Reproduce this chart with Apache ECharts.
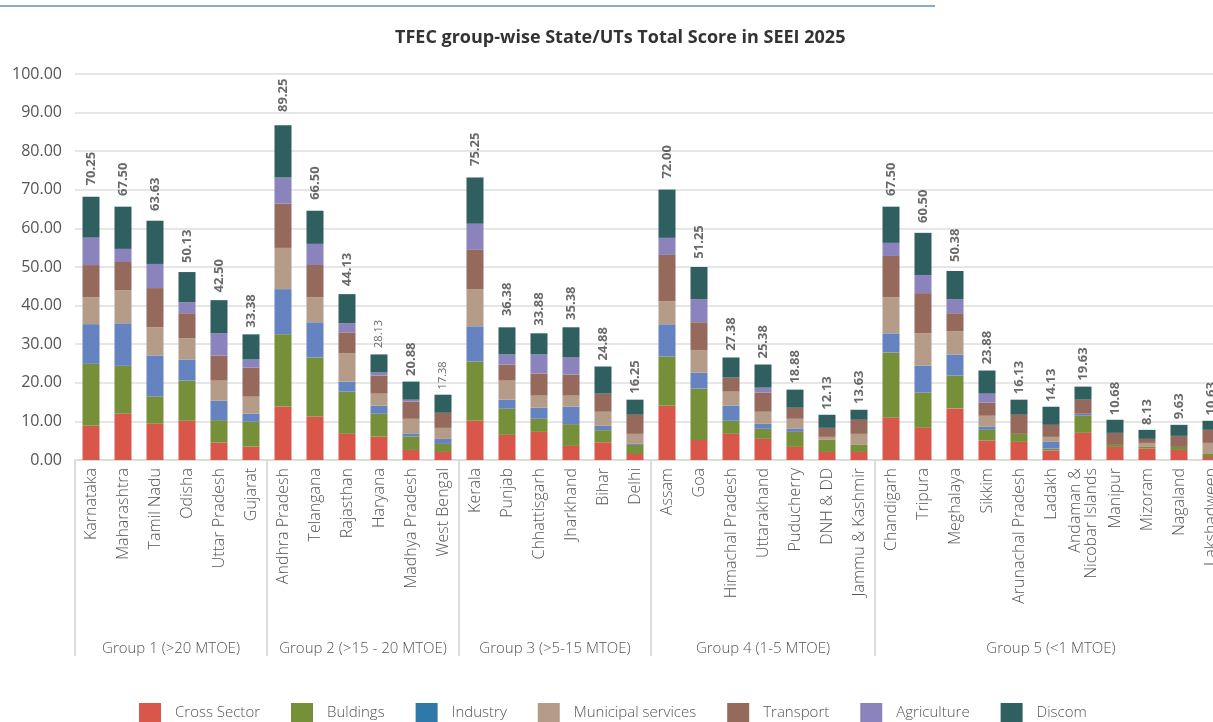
<!DOCTYPE html>
<html>
<head>
<meta charset="utf-8">
<script src="https://cdn.jsdelivr.net/npm/echarts@6/dist/echarts.min.js"></script>
<style>
  html, body { margin: 0; padding: 0; background: #fff; }
  #seei_chart { width: 1213px; height: 722px; }
</style>
</head>
<body>
<div id="seei_chart"></div>
<script>
// categories (states / UTs), in the order shown
var states = [
    'Karnataka', 'Maharashtra', 'Tamil Nadu', 'Odisha', 'Uttar Pradesh', 'Gujarat',
    'Andhra Pradesh', 'Telangana', 'Rajasthan', 'Haryana', 'Madhya Pradesh', 'West Bengal',
    'Kerala', 'Punjab', 'Chhattisgarh', 'Jharkhand', 'Bihar', 'Delhi',
    'Assam', 'Goa', 'Himachal Pradesh', 'Uttarakhand', 'Puducherry', 'DNH & DD', 'Jammu & Kashmir',
    'Chandigarh', 'Tripura', 'Meghalaya', 'Sikkim', 'Arunachal Pradesh', 'Ladakh',
    'Andaman &\nNicobar Islands', 'Manipur', 'Mizoram', 'Nagaland', 'Lakshadweep'
];
var groups = ['Group 1 (>20 MTOE)', 'Group 2 (>15 - 20 MTOE)', 'Group 3 (>5-15 MTOE)', 'Group 4 (1-5 MTOE)', 'Group 5 (<1 MTOE)'];
var groupSizes = [6, 6, 6, 7, 11];

// sector scores
var crossSector = [8.85, 11.98, 9.38, 10.16, 4.51, 3.47, 13.89, 11.28, 6.77, 6.08, 2.60, 2.08, 10.16, 6.51, 7.29, 3.65, 4.60, 1.56, 14.06, 5.21, 6.77, 5.47, 3.39, 2.08, 2.08, 10.94, 8.33, 13.37, 5.03, 4.69, 2.43, 7.03, 3.39, 2.95, 2.60, 0.78];
var buildings = [16.05, 12.41, 7.12, 10.41, 5.82, 6.43, 18.66, 15.28, 10.94, 5.90, 3.47, 2.08, 15.36, 6.77, 3.39, 5.64, 3.13, 2.35, 12.76, 13.28, 3.39, 2.60, 3.90, 3.13, 1.83, 16.92, 9.12, 8.51, 2.78, 2.08, 0.52, 4.43, 0.52, 0.44, 0.79, 0.78];
var industry = [10.30, 11.03, 10.59, 5.47, 5.03, 2.08, 11.72, 9.12, 2.60, 2.08, 0.69, 1.30, 9.12, 2.34, 2.86, 4.51, 1.12, 0.26, 8.34, 4.17, 3.90, 1.31, 0.78, 0, 0, 4.95, 7.03, 5.46, 0.78, 0, 1.74, 0.52, 0, 0, 0, 0];
var municipal = [7.00, 8.59, 7.29, 5.47, 5.21, 4.43, 10.68, 6.51, 7.29, 3.13, 3.91, 2.86, 9.64, 4.95, 3.13, 2.87, 3.65, 2.60, 5.99, 5.73, 3.65, 3.12, 2.61, 0.78, 2.86, 9.38, 8.33, 5.99, 2.87, 0, 1.30, 0, 0, 1.04, 0, 2.87];
var transport = [8.30, 7.29, 10.16, 6.51, 6.51, 7.55, 11.46, 8.33, 5.47, 4.69, 4.43, 3.91, 10.16, 4.17, 5.73, 5.47, 4.69, 4.95, 11.98, 7.29, 3.64, 4.95, 2.86, 2.34, 3.65, 10.67, 10.42, 4.69, 3.38, 4.95, 3.12, 3.65, 3.12, 1.04, 2.86, 3.38];
var agriculture = [7.10, 3.39, 6.25, 2.86, 5.73, 2.08, 6.77, 5.47, 2.35, 0.78, 0.52, 0, 6.77, 2.60, 4.95, 4.42, 0, 0, 4.42, 5.99, 0, 1.30, 0, 0, 0, 3.39, 4.69, 3.65, 2.35, 0, 0, 0, 0, 0, 0, 0];
var discom = [10.60, 10.94, 11.20, 7.81, 8.60, 6.51, 13.54, 8.59, 7.55, 4.69, 4.69, 4.69, 11.98, 7.03, 5.47, 7.82, 7.03, 3.91, 12.50, 8.33, 5.21, 5.99, 4.69, 3.39, 2.60, 9.38, 10.93, 7.29, 5.99, 3.91, 4.69, 3.38, 3.39, 2.34, 2.86, 2.35];

// total score labels printed above each bar
var totals = [70.25, 67.50, 63.63, 50.13, 42.50, 33.38, 89.25, 66.50, 44.13, 28.13, 20.88, 17.38, 75.25, 36.38, 33.88, 35.38, 24.88, 16.25, 72.00, 51.25, 27.38, 25.38, 18.88, 12.13, 13.63, 67.50, 60.50, 50.38, 23.88, 16.13, 14.13, 19.63, 10.68, 8.13, 9.63, 10.63];

var FONT = 'Open Sans';

var groupLabelPos = [];
var groupEdges = [0];
var acc = 0;
for (var g = 0; g < groupSizes.length; g++) {
    groupLabelPos.push(acc + groupSizes[g] / 2);
    acc += groupSizes[g];
    groupEdges.push(acc);
}

function sectorSeries(name, data, color) {
    return {
        name: name,
        type: 'bar',
        stack: 'score',
        barWidth: 17,
        itemStyle: {color: color},
        emphasis: {disabled: true},
        data: data
    };
}

var myChart = echarts.init(document.getElementById('seei_chart'));
var option = {
    animation: false,
    textStyle: {fontFamily: FONT},
    title: {
        text: 'TFEC group-wise State/UTs Total Score in SEEI 2025',
        left: 395,
        top: 29,
        padding: 0,
        textStyle: {fontSize: 18, fontWeight: 'bold', color: '#333', fontFamily: FONT}
    },
    graphic: [{
        type: 'line',
        shape: {x1: 0, y1: 6, x2: 935, y2: 6},
        style: {stroke: '#8ea7d9', lineWidth: 2}
    }],
    legend: {
        data: [
            'Cross Sector', 'Buldings',
            {name: 'Industry', itemStyle: {color: '#2e78aa'}},
            'Municipal services', 'Transport', 'Agriculture', 'Discom'
        ],
        left: 134,
        top: 698,
        icon: 'rect',
        itemWidth: 22,
        itemHeight: 20,
        itemGap: 31,
        textStyle: {fontSize: 15, fontWeight: 300, color: '#555', fontFamily: FONT, padding: [0, 0, 0, 9]}
    },
    grid: {left: 75, width: 1152, top: 74, bottom: 262, containLabel: false, outerBoundsMode: 'none'},
    xAxis: [
        {
            type: 'category',
            data: states,
            axisLine: {lineStyle: {color: '#dcdcdc', width: 2}},
            axisTick: {show: false},
            axisLabel: {
                rotate: 90,
                interval: 0,
                margin: 8,
                fontSize: 16,
                fontWeight: 300,
                color: '#555',
                lineHeight: 16,
                fontFamily: FONT
            }
        },
        {
            type: 'value',
            min: 0,
            max: states.length,
            position: 'bottom',
            offset: 196,
            splitLine: {show: false},
            axisLine: {show: false},
            axisTick: {
                show: true,
                inside: true,
                length: 196,
                customValues: groupEdges,
                lineStyle: {color: '#dcdcdc', width: 2}
            },
            axisLabel: {
                inside: true,
                margin: 0,
                customValues: groupLabelPos,
                fontSize: 15,
                fontWeight: 300,
                color: '#555',
                fontFamily: FONT,
                formatter: function (val) {
                    var i = groupLabelPos.indexOf(val);
                    return i >= 0 ? groups[i] : '';
                }
            }
        }
    ],
    yAxis: [{
        type: 'value',
        min: 0,
        max: 100,
        interval: 10,
        axisLine: {show: false},
        axisTick: {show: false},
        splitLine: {lineStyle: {color: '#e6e6e6', width: 2}},
        axisLabel: {
            margin: 13,
            fontSize: 16,
            color: '#555',
            fontFamily: FONT,
            formatter: function (v) { return v.toFixed(2); }
        }
    }],
    series: [
        sectorSeries('Cross Sector', crossSector, '#d9574a'),
        sectorSeries('Buldings', buildings, '#76903a'),
        sectorSeries('Industry', industry, '#6583c0'),
        sectorSeries('Municipal services', municipal, '#b49c88'),
        sectorSeries('Transport', transport, '#956a5c'),
        sectorSeries('Agriculture', agriculture, '#8b83bb'),
        sectorSeries('Discom', discom, '#2f5f5f'),
        {
            name: 'Total',
            type: 'scatter',
            symbolSize: 1,
            itemStyle: {color: 'rgba(0,0,0,0)'},
            silent: true,
            label: {
                show: true,
                position: 'top',
                rotate: 90,
                align: 'left',
                verticalAlign: 'middle',
                distance: 3,
                fontSize: 13,
                fontWeight: 'bold',
                color: '#444',
                fontFamily: FONT,
                formatter: function (p) { return p.value.toFixed(2); }
            },
            data: totals.map(function (t, i) {
                // Haryana and West Bengal use a smaller, lighter label in the source
                if (states[i] === 'Haryana' || states[i] === 'West Bengal') {
                    return {value: t, label: {fontSize: 11, fontWeight: 'normal'}};
                }
                return t;
            })
        }
    ]
};
myChart.setOption(option, true);
</script>
</body>
</html>
